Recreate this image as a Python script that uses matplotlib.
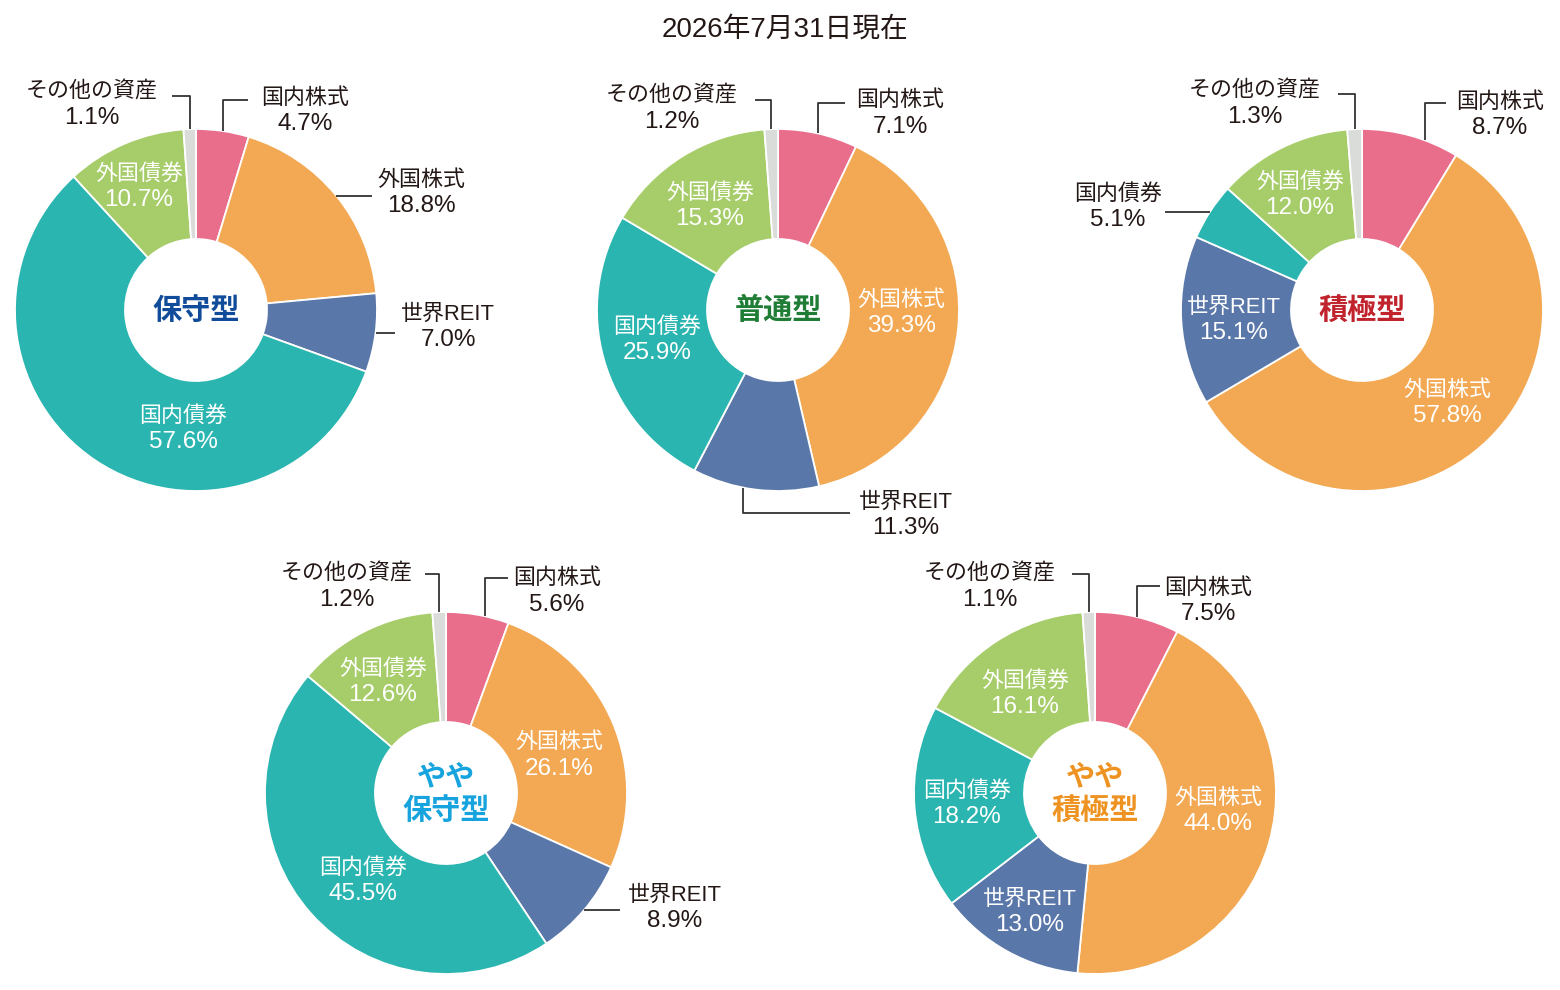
import numpy as np
import matplotlib.pyplot as plt

plt.rcParams['font.family'] = ['Liberation Sans', 'Noto Sans CJK JP', 'DejaVu Sans']

# data
title = "2026年7月31日現在"
assets = ["国内株式", "外国株式", "世界REIT", "国内債券", "外国債券", "その他の資産"]
colors = ["#E96E8C", "#F3A953", "#5A77A9", "#2BB5B0", "#A6CD69", "#D9DCD9"]

fund_names = ["保守型", "普通型", "積極型", "やや\n保守型", "やや\n積極型"]
fund_colors = ["#114C9A", "#1F7D36", "#C1232C", "#17A4DE", "#EE9322"]

hoshu = [4.7, 18.8, 7.0, 57.6, 10.7, 1.1]
futsu = [7.1, 39.3, 11.3, 25.9, 15.3, 1.2]
sekkyoku = [8.7, 57.8, 15.1, 5.1, 12.0, 1.3]
yaya_hoshu = [5.6, 26.1, 8.9, 45.5, 12.6, 1.2]
yaya_sekkyoku = [7.5, 44.0, 13.0, 18.2, 16.1, 1.1]
all_values = [hoshu, futsu, sekkyoku, yaya_hoshu, yaya_sekkyoku]

# layout (pixels, y measured from top)
W, H = 1560, 990
R, R_IN = 181, 71
centers = [(196, 310), (778, 310), (1362, 310), (446, 793), (1095, 793)]

# per label: (kind, text x, text y, line y, line end x, anchor fraction)
layouts = [
    [("ur", 305, 111, 100, 248, 0.5), ("r", 421, 193, None, 372, 0.5),
     ("r", 448, 327, None, 395, 0.5), ("in", 183, 429), ("in", 139, 187),
     ("ul", 92, 105, 96, 172, 0.5)],
    [("ur", 900, 114, 103, 845, 0.5), ("in", 901, 313),
     ("dr", 906, 515, 513, 850, 0.6), ("in", 657, 340), ("in", 710, 206),
     ("ul", 672, 109, 100, 755, 0.5)],
    [("ur", 1500, 115, 103, 1446, 0.65), ("in", 1447, 403), ("in", 1234, 320),
     ("l", 1118, 207, None, 1165, 0.5), ("in", 1300, 195),
     ("ul", 1255, 104, 94, 1338, 0.5)],
    [("ur", 557, 592, 578, 508, 0.62), ("in", 559, 756),
     ("r", 675, 908, None, 620, 0.5), ("in", 363, 881), ("in", 383, 682),
     ("ul", 347, 587, 574, 425, 0.5)],
    [("ur", 1208, 601, 586, 1160, 0.5), ("in", 1218, 811), ("in", 1030, 912),
     ("in", 967, 804), ("in", 1025, 694), ("ul", 990, 587, 574, 1072, 0.5)],
]

fig = plt.figure(figsize=(15.6, 9.9), dpi=100)
ax = fig.add_axes([0, 0, 1, 1])

line_kw = dict(color="#333333", lw=1.3, solid_capstyle="butt")


def put_label(x, y, name, pct, color):
    ax.text(x, H - (y - 13), name, ha="center", va="center", fontsize=15.8,
            color=color)
    ax.text(x, H - (y + 13), pct, ha="center", va="center", fontsize=17.5,
            color=color)


for vals, (cx, cy), lay, fname, fcol in zip(all_values, centers, layouts,
                                             fund_names, fund_colors):
    cyd = H - cy
    ax.pie(vals, colors=colors, startangle=90, counterclock=False,
           center=(cx, cyd), radius=R,
           wedgeprops=dict(width=R - R_IN, edgecolor="white", linewidth=1.3))
    ax.text(cx, cyd, fname, ha="center", va="center", fontsize=21,
            fontweight="bold", color=fcol, linespacing=1.15,
            family=["Noto Sans CJK JP", "DejaVu Sans"])

    total = sum(vals)
    cum = np.concatenate([[0], np.cumsum(vals)])
    for i, (v, spec) in enumerate(zip(vals, lay)):
        pct = f"{v:.1f}%"
        kind = spec[0]
        if kind == "in":
            put_label(spec[1], spec[2], assets[i], pct, "white")
            continue
        _, tx, ty, ly, ex, frac = spec
        ang = np.deg2rad(90 - 360 * (cum[i] + frac * v) / total)
        axp, ayp = cx + R * np.cos(ang), cyd + R * np.sin(ang)
        if kind in ("ur", "ul", "dr"):
            ax.plot([axp, axp, ex], [ayp, H - ly, H - ly], **line_kw)
        else:
            ax.plot([axp, ex], [ayp, ayp], **line_kw)
        put_label(tx, ty, assets[i], pct, "#231815")

ax.text(785, H - 30, title, ha="center", va="center", fontsize=20,
        color="#231815")

ax.set_xlim(0, W)
ax.set_ylim(0, H)
ax.set_aspect("equal")
ax.axis("off")

fig.savefig("out.png", dpi=100, facecolor="white")
